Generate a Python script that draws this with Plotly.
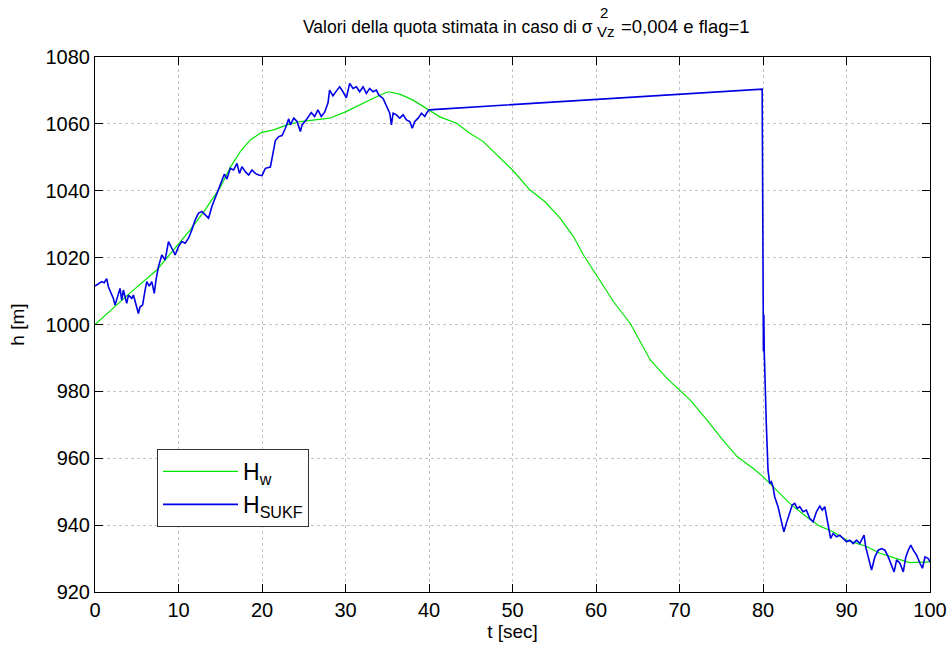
import plotly.graph_objects as go

# H_w: reference altitude profile
t_w = [0, 2, 4, 7.4, 9, 11.4, 13, 15, 16.2, 17.4, 18.6, 19.9, 21.4, 23, 24.6, 26.5, 28.1, 30,
       32.1, 33.7, 35.1, 36.5, 38.1, 39.7, 41.3, 43.3, 44.9, 46.5, 48.1, 50, 52.1, 53.9, 55.7,
       57.3, 58.5, 60, 62.1, 64.1, 66.5, 68.5, 70, 71.3, 73.3, 75.2, 76.9, 78.8, 80, 81.2, 83.2,
       85.2, 86.8, 88.4, 90, 92.4, 94, 96, 97.6, 100]
h_w = [1000, 1004.5, 1009, 1016.3, 1021, 1028.3, 1033.6, 1041, 1047, 1051.7, 1055.2, 1057.4,
       1058.2, 1059.7, 1060.7, 1061.2, 1061.7, 1063.6, 1066.2, 1068.1, 1069.6, 1068.9, 1067.1,
       1064.7, 1062.1, 1060.2, 1057.2, 1054.7, 1050.7, 1046.2, 1040.2, 1036.7, 1031.8, 1026.3,
       1020.8, 1014.8, 1006.8, 1000.3, 989.4, 983.9, 980.4, 977.4, 971.4, 965.4, 960.5, 957,
       954.5, 951.5, 946.5, 942.5, 939.7, 938, 935.5, 933.6, 931.6, 930, 928.8, 929]

# H_SUKF: filter estimate
t_sukf = [0.0, 0.4, 0.8, 1.1, 1.4, 1.6, 1.9, 2.2, 2.4, 2.8, 3.0, 3.2, 3.4, 3.6, 3.8, 4.0, 4.4,
          4.6, 5.0, 5.2, 5.4, 5.7, 6.0, 6.2, 6.5, 6.8, 7.1, 7.3, 7.6, 8.0, 8.4, 8.8, 9.2, 9.6,
          10.0, 10.4, 10.8, 11.2, 11.6, 12.0, 12.4, 12.8, 13.2, 13.6, 14.0, 14.4, 14.8, 15.2,
          15.5, 15.8, 16.2, 16.6, 17.0, 17.3, 17.6, 18.0, 18.4, 18.8, 19.2, 19.6, 20.0, 20.4,
          21.0, 21.2, 21.6, 22.0, 22.4, 22.8, 23.2, 23.4, 23.8, 24.2, 24.6, 24.8, 25.3, 25.9,
          26.3, 26.7, 27.1, 27.5, 27.9, 28.1, 28.5, 28.9, 29.3, 29.7, 30.1, 30.5, 30.9, 31.3,
          31.7, 32.1, 32.5, 32.9, 33.3, 33.7, 34.0, 34.5, 34.9, 35.3, 35.5, 35.7, 36.1, 36.5,
          36.9, 37.3, 37.7, 38.0, 38.3, 38.7, 39.1, 39.5, 39.7, 40.0,
          79.9, 80.0, 80.05, 80.1, 80.15, 80.4, 80.6, 80.8, 81.0, 81.2, 81.4, 81.8, 82.2, 82.5,
          82.8, 83.2, 83.5, 83.8, 84.1, 84.4, 84.8, 85.2, 85.6, 86.0, 86.4, 86.8, 87.1, 87.4,
          87.7, 88.1, 88.4, 88.8, 89.2, 89.6, 90.0, 90.4, 90.8, 91.2, 91.6, 92.1, 92.3, 92.6,
          93.0, 93.4, 93.8, 94.2, 94.6, 95.0, 95.4, 95.7, 96.0, 96.4, 96.8, 97.1, 97.4, 97.7,
          98.0, 98.4, 98.8, 99.1, 99.4, 99.8, 100.0]
h_sukf = [1011.5, 1012.1, 1012.8, 1012.5, 1013.7, 1011.3, 1009.8, 1007.8, 1005.8, 1009.3,
          1010.8, 1007.3, 1010.3, 1008.3, 1006.3, 1008.8, 1007.8, 1008.8, 1005.3, 1003.3,
          1005.3, 1005.8, 1010.3, 1012.8, 1011.5, 1012.8, 1009.3, 1013.3, 1017.3, 1020.8,
          1019.3, 1024.8, 1022.8, 1020.8, 1023.3, 1024.8, 1024.3, 1025.8, 1028.3, 1031.3,
          1033.3, 1033.8, 1032.8, 1031.8, 1035.3, 1037.8, 1040.2, 1043.2, 1045.0, 1043.5,
          1046.7, 1046.2, 1048.2, 1045.2, 1047.2, 1045.7, 1044.7, 1046.2, 1045.2, 1044.7,
          1044.5, 1046.7, 1047.1, 1049.7, 1055.0, 1056.2, 1056.5, 1058.7, 1061.5, 1059.7,
          1061.7, 1060.7, 1057.7, 1059.7, 1061.2, 1063.4, 1062.2, 1064.2, 1062.2, 1063.5,
          1066.2, 1070.1, 1068.4, 1069.8, 1071.1, 1069.6, 1067.8, 1072.1, 1070.6, 1071.1,
          1069.6, 1071.1, 1069.1, 1070.6, 1069.6, 1070.1, 1068.6, 1067.6, 1065.6, 1063.2,
          1059.7, 1063.2, 1062.7, 1061.7, 1062.7, 1061.2, 1060.7, 1058.7, 1060.7, 1061.7,
          1063.2, 1062.2, 1063.2, 1064.2,
          1070.4, 1003.0, 992.0, 1003.0, 992.0, 970.0, 956.5, 952.5, 953.0, 951.5, 948.5,
          945.5, 941.5, 938.0, 940.6, 944.1, 946.0, 946.5, 945.0, 945.5, 944.0, 944.5, 942.0,
          941.0, 944.0, 945.7, 944.5, 945.5, 941.0, 936.0, 937.5, 936.5, 937.0, 936.0, 935.0,
          935.5, 934.5, 935.5, 934.5, 937.0, 933.5, 930.5, 926.6, 930.5, 932.5, 933.0, 932.5,
          930.5, 928.0, 926.0, 929.6, 928.6, 926.0, 930.5, 932.5, 934.0, 932.5, 931.0, 928.6,
          927.1, 930.5, 930.0, 929.0]

x_ticks = list(range(0, 101, 10))
y_ticks = list(range(920, 1081, 20))

FONT = "Liberation Sans, Arial, sans-serif"

fig = go.Figure()
fig.add_trace(go.Scatter(x=t_w, y=h_w, mode="lines", name="H<sub>w</sub>",
                         line=dict(color="#00e600", width=1.2)))
fig.add_trace(go.Scatter(x=t_sukf, y=h_sukf, mode="lines", name="H<sub>SUKF</sub>",
                         line=dict(color="#0000e6", width=1.6)))

axis_common = dict(
    showline=True, linecolor="black", linewidth=1, mirror="ticks",
    ticks="inside", ticklen=8, tickcolor="black", tickwidth=1,
    showgrid=True, gridcolor="#c4c4c4", griddash="dot", gridwidth=1,
    zeroline=False, automargin=False,
    tickfont=dict(family=FONT, size=20, color="black"),
)

fig.update_xaxes(range=[0, 100], tickvals=x_ticks,
                 title=dict(text="t [sec]", font=dict(family=FONT, size=19, color="black"),
                            standoff=4),
                 **axis_common)
fig.update_yaxes(range=[920, 1080], tickvals=y_ticks,
                 title=dict(text="h [m]", font=dict(family=FONT, size=19, color="black"),
                            standoff=15),
                 **axis_common)

L, R, T, B = 95, 21, 57, 58
W, H = 951, 650
PW, PH = W - L - R, H - T - B


def px(x):
    return (x - L) / PW


def py(y):
    return (H - B - y) / PH


title_font = dict(family=FONT, size=17.5, color="black")
tail_font = dict(family=FONT, size=18.5, color="black")
small_font = dict(family=FONT, size=15, color="black")
fig.add_annotation(text="Valori della quota stimata in caso di σ", x=px(595), y=py(27),
                   xref="paper", yref="paper", xanchor="right", yanchor="middle",
                   showarrow=False, font=title_font)
fig.add_annotation(text="2", x=px(598), y=py(13), xref="paper", yref="paper",
                   xanchor="left", yanchor="middle", showarrow=False, font=small_font)
fig.add_annotation(text="Vz", x=px(595), y=py(31), xref="paper", yref="paper",
                   xanchor="left", yanchor="middle", showarrow=False, font=small_font)
fig.add_annotation(text="=0,004 e flag=1", x=px(619), y=py(27), xref="paper", yref="paper",
                   xanchor="left", yanchor="middle", showarrow=False, font=tail_font)

fig.update_layout(
    width=W, height=H,
    margin=dict(l=L, r=R, t=T, b=B, autoexpand=False),
    paper_bgcolor="white", plot_bgcolor="white",
    showlegend=True,
    legend=dict(x=px(157), y=py(449), xanchor="left", yanchor="top",
                bgcolor="white", bordercolor="#333333", borderwidth=1,
                font=dict(family=FONT, size=23, color="black"),
                itemwidth=75),
)

fig.write_html("out.html")
